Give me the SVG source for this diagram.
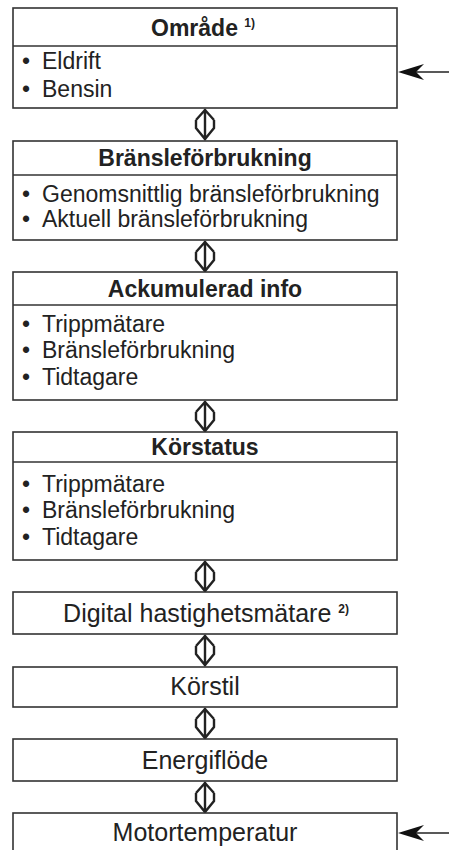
<svg xmlns="http://www.w3.org/2000/svg" width="449" height="850" viewBox="0 0 449 850">
<defs>
<style>
.box{fill:#fff;stroke:#333;stroke-width:1.6}
.div{stroke:#333;stroke-width:1.4}
.t{font-family:"Liberation Sans",Arial,sans-serif;font-size:23px;fill:#222}
.s{font-size:25px}
.h{font-family:"Liberation Sans",Arial,sans-serif;font-size:23px;font-weight:bold;fill:#222;text-anchor:middle}
.c{text-anchor:middle}
.sup{font-size:12px;font-weight:bold}
.con{fill:none;stroke:#222;stroke-width:2.4;stroke-linejoin:miter}
.ln{stroke:#222;stroke-width:1.6}
.ah{fill:#111}
</style>
<g id="dbl"><path class="con" d="M205,1 V32 M196,12 L205,2 L214,12 M196,12 V20 L205,31 L214,20 V12"/></g>
<g id="inarrow"><line class="ln" x1="414" y1="0" x2="449" y2="0"/><path class="ah" d="M398,0 L424,-8 L416,0 L424,8 Z"/></g>
</defs>
<rect width="449" height="850" fill="#fff"/>
<g id="connectors">
<use href="#dbl" y="108"/>
<use href="#dbl" y="240"/>
<use href="#dbl" y="400"/>
<use href="#dbl" y="560"/>
<use href="#dbl" y="634"/>
<use href="#dbl" y="707"/>
<use href="#dbl" y="781"/>
<use href="#inarrow" y="72"/>
<use href="#inarrow" y="833"/>
</g>
<g id="omrade">
<rect class="box" x="13" y="8" width="384" height="100"/>
<line class="div" x1="13" y1="46" x2="397" y2="46"/>
<text class="h" x="203" y="36">Område <tspan class="sup" dy="-9">1)</tspan></text>
<text class="t" y="69"><tspan x="22">•</tspan><tspan x="42">Eldrift</tspan></text>
<text class="t" y="97"><tspan x="22">•</tspan><tspan x="42">Bensin</tspan></text>
</g>
<g id="bransle">
<rect class="box" x="13" y="141" width="384" height="99"/>
<line class="div" x1="13" y1="175" x2="397" y2="175"/>
<text class="h" x="205" y="166">Bränsleförbrukning</text>
<text class="t" y="202"><tspan x="22">•</tspan><tspan x="42">Genomsnittlig bränsleförbrukning</tspan></text>
<text class="t" y="227"><tspan x="22">•</tspan><tspan x="42">Aktuell bränsleförbrukning</tspan></text>
</g>
<g id="ackumulerad">
<rect class="box" x="13" y="272" width="384" height="128"/>
<line class="div" x1="13" y1="305" x2="397" y2="305"/>
<text class="h" x="205" y="297">Ackumulerad info</text>
<text class="t" y="332"><tspan x="22">•</tspan><tspan x="42">Trippmätare</tspan></text>
<text class="t" y="358"><tspan x="22">•</tspan><tspan x="42">Bränsleförbrukning</tspan></text>
<text class="t" y="385"><tspan x="22">•</tspan><tspan x="42">Tidtagare</tspan></text>
</g>
<g id="korstatus">
<rect class="box" x="13" y="432" width="384" height="128"/>
<line class="div" x1="13" y1="462" x2="397" y2="462"/>
<text class="h" x="205" y="455">Körstatus</text>
<text class="t" y="492"><tspan x="22">•</tspan><tspan x="42">Trippmätare</tspan></text>
<text class="t" y="518"><tspan x="22">•</tspan><tspan x="42">Bränsleförbrukning</tspan></text>
<text class="t" y="545"><tspan x="22">•</tspan><tspan x="42">Tidtagare</tspan></text>
</g>
<g id="digital">
<rect class="box" x="13" y="592" width="384" height="42"/>
<text class="t s c" x="206" y="622">Digital hastighetsmätare <tspan class="sup" dy="-9">2)</tspan></text>
</g>
<g id="korstil">
<rect class="box" x="13" y="667" width="384" height="40"/>
<text class="t s c" x="205" y="695">Körstil</text>
</g>
<g id="energiflode">
<rect class="box" x="13" y="739" width="384" height="42"/>
<text class="t s c" x="205" y="769">Energiflöde</text>
</g>
<g id="motortemperatur">
<rect class="box" x="13" y="813" width="384" height="50"/>
<text class="t s c" x="205" y="841">Motortemperatur</text>
</g>
</svg>
